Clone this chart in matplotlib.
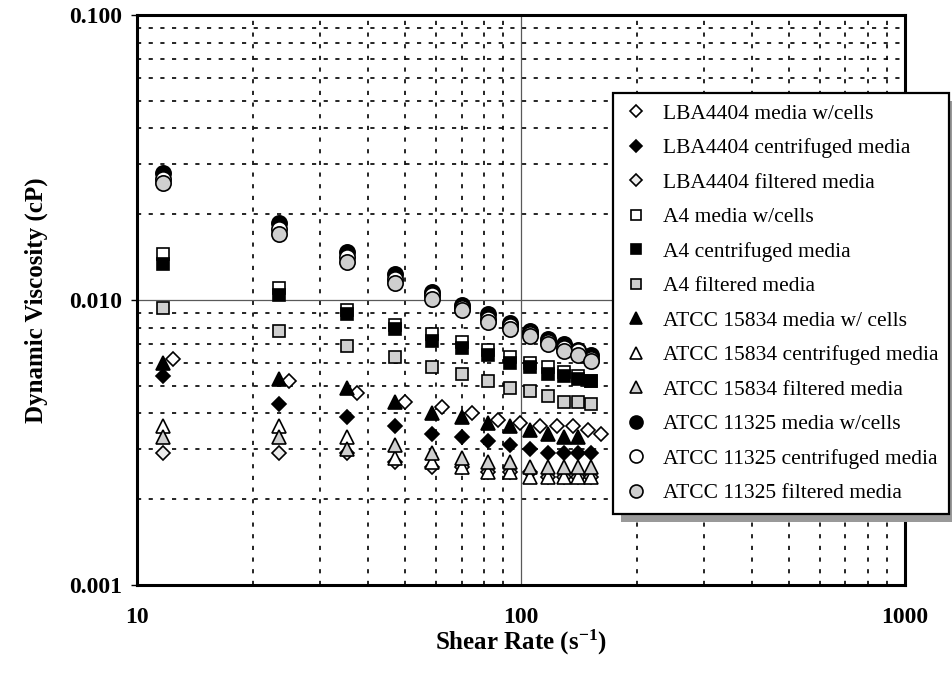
import numpy as np
import matplotlib
matplotlib.use("Agg")
import matplotlib.pyplot as plt
from matplotlib.patches import Rectangle
from matplotlib.transforms import IdentityTransform
from matplotlib.ticker import FixedLocator, FixedFormatter, NullFormatter, LogLocator

plt.rcParams["font.family"] = ["Liberation Serif", "DejaVu Serif"]
plt.rcParams["mathtext.fontset"] = "custom"
plt.rcParams["mathtext.rm"] = "Liberation Serif:bold"
plt.rcParams["mathtext.it"] = "Liberation Serif:bold"
plt.rcParams["mathtext.bf"] = "Liberation Serif:bold"

# shear rates (s^-1)
shear = [11.7, 23.5, 35.2, 47.0, 58.7, 70.4, 82.2, 93.9, 105.7, 117.4, 129.1, 140.9, 152.6]
shear_lba_cells = [12.4, 24.9, 37.3, 49.8, 62.2, 74.6, 87.1, 99.5, 112.0, 124.4, 136.8, 149.3, 161.7]

# viscosite dynamique (cP)
lba_cells = [0.0062, 0.0052, 0.0047, 0.0044, 0.0042, 0.0040, 0.0038, 0.0037, 0.0036, 0.0036, 0.0036, 0.0035, 0.0034]
lba_centri = [0.0054, 0.0043, 0.0039, 0.0036, 0.0034, 0.0033, 0.0032, 0.0031, 0.0030, 0.0029, 0.0029, 0.0029, 0.0029]
lba_filtre = [0.0029, 0.0029, 0.0029, 0.0027, 0.0026, 0.0026, 0.0025, 0.0025, 0.0025, 0.0024, 0.0024, 0.0024, 0.0024]

a4_cells = [0.0145, 0.0110, 0.0092, 0.0082, 0.0076, 0.0071, 0.0067, 0.0063, 0.0060, 0.0058, 0.0056, 0.0054, 0.0052]
a4_centri = [0.0134, 0.0104, 0.0089, 0.0079, 0.0072, 0.0068, 0.0064, 0.0060, 0.0058, 0.0055, 0.0054, 0.0053, 0.0052]
a4_filtre = [0.0094, 0.0078, 0.0069, 0.0063, 0.0058, 0.0055, 0.0052, 0.0049, 0.0048, 0.0046, 0.0044, 0.0044, 0.0043]

atcc15834_cells = [0.0060, 0.0053, 0.0049, 0.0044, 0.0040, 0.0039, 0.0037, 0.0036, 0.0035, 0.0034, 0.0033, 0.0033]
atcc15834_centri = [0.0036, 0.0036, 0.0033, 0.0028, 0.0027, 0.0026, 0.0025, 0.0025, 0.0024, 0.0024, 0.0024, 0.0024, 0.0024]
atcc15834_filtre = [0.0033, 0.0033, 0.0030, 0.0031, 0.0029, 0.0028, 0.0027, 0.0027, 0.0026, 0.0026, 0.0026, 0.0026, 0.0026]

atcc11325_cells = [0.0278, 0.0187, 0.0147, 0.0123, 0.0107, 0.0096, 0.0089, 0.0083, 0.0078, 0.0073, 0.0070, 0.0067, 0.0064]
atcc11325_centri = [0.0266, 0.0178, 0.0141, 0.0118, 0.0104, 0.0094, 0.0086, 0.0081, 0.0076, 0.0071, 0.0068, 0.0066, 0.0062]
atcc11325_filtre = [0.0257, 0.0171, 0.0136, 0.0115, 0.0101, 0.0092, 0.0084, 0.0079, 0.0075, 0.0070, 0.0066, 0.0064, 0.0061]

labels = ["LBA4404 media w/cells", "LBA4404 centrifuged media", "LBA4404 filtered media",
          "A4 media w/cells", "A4 centrifuged media", "A4 filtered media",
          "ATCC 15834 media w/ cells", "ATCC 15834 centrifuged media", "ATCC 15834 filtered media",
          "ATCC 11325 media w/cells", "ATCC 11325 centrifuged media", "ATCC 11325 filtered media"]

x_ticks = [10, 100, 1000]
x_ticklabels = ["10", "100", "1000"]
y_ticks = [0.001, 0.01, 0.1]
y_ticklabels = ["0.001", "0.010", "0.100"]

GRIS = "#cfcfcf"

fig = plt.figure(figsize=(9.52, 6.78), dpi=100)
ax = fig.add_axes([0.1439, 0.1372, 0.8067, 0.8407])
ax.set_xscale("log")
ax.set_yscale("log")

# (x, y, marqueur, couleur de remplissage, taille)
series = [
    (shear_lba_cells, lba_cells, "D", "white", 7.5),
    (shear, lba_centri, "D", "black", 7.5),
    (shear, lba_filtre, "D", "#ececec", 7.5),
    (shear, a4_cells, "s", "white", 9),
    (shear, a4_centri, "s", "black", 9),
    (shear, a4_filtre, "s", GRIS, 9),
    (shear[:len(atcc15834_cells)], atcc15834_cells, "^", "black", 9.5),
    (shear, atcc15834_centri, "^", "white", 9.5),
    (shear, atcc15834_filtre, "^", GRIS, 9.5),
    (shear, atcc11325_cells, "o", "black", 11),
    (shear, atcc11325_centri, "o", "white", 11),
    (shear, atcc11325_filtre, "o", GRIS, 11),
]

handles = []
for (x, y, m, fc, ms), lab in zip(series, labels):
    h, = ax.plot(x, y, linestyle="none", marker=m, markersize=ms,
                 markerfacecolor=fc, markeredgecolor="black",
                 markeredgewidth=1.2, label=lab, zorder=3)
    handles.append(h)

ax.set_xlim(10, 1000)
ax.set_ylim(0.001, 0.1)

ax.xaxis.set_major_locator(FixedLocator(x_ticks))
ax.xaxis.set_major_formatter(FixedFormatter(x_ticklabels))
ax.yaxis.set_major_locator(FixedLocator(y_ticks))
ax.yaxis.set_major_formatter(FixedFormatter(y_ticklabels))
ax.xaxis.set_minor_locator(LogLocator(base=10, subs=np.arange(2, 10), numticks=20))
ax.yaxis.set_minor_locator(LogLocator(base=10, subs=np.arange(2, 10), numticks=20))
ax.xaxis.set_minor_formatter(NullFormatter())
ax.yaxis.set_minor_formatter(NullFormatter())

ax.tick_params(axis="x", which="both", length=0, pad=16, labelsize=17)
ax.tick_params(axis="y", which="major", length=4.5, width=1, pad=6, labelsize=17, direction="out")
ax.tick_params(axis="y", which="minor", length=0)
for t in ax.get_xticklabels() + ax.get_yticklabels():
    t.set_fontweight("bold")

# grille pointillee sur les sous-graduations, traits pleins a 100 et 0.010
ax.set_axisbelow(True)
ax.grid(which="minor", color="black", linestyle=(0, (2.5, 4.5)), linewidth=1.2)
ax.axvline(100, color="0.35", linewidth=0.9, zorder=1)
ax.axhline(0.01, color="0.35", linewidth=0.9, zorder=1)

for s in ax.spines.values():
    s.set_linewidth(2.2)

ax.set_ylabel("Dynamic Viscosity (cP)", fontsize=18, fontweight="bold")
ax.yaxis.set_label_coords(-0.116, 0.5)
ax.set_xlabel("Shear Rate (s$^{-1}$)", fontsize=18, fontweight="bold")
ax.xaxis.set_label_coords(0.5, -0.075)

leg = ax.legend(handles=handles, loc="upper right",
                bbox_to_anchor=(949 / 952, 1 - 93 / 678), bbox_transform=fig.transFigure,
                fancybox=False, edgecolor="black", framealpha=1, fontsize=15.5,
                borderpad=0.5, labelspacing=0.67, handlelength=1.1, handletextpad=0.7,
                borderaxespad=0, markerscale=0.85)
leg.get_frame().set_linewidth(1.6)
leg.set_zorder(6)

# ombre grise decalee sous la legende
fig.canvas.draw()
bb = leg.get_frame().get_window_extent()
ombre = Rectangle((bb.x0 + 8, bb.y0 - 8), bb.width, bb.height, transform=IdentityTransform(),
                  facecolor="0.6", edgecolor="none", zorder=5.9, clip_on=False)
ax.add_artist(ombre)

fig.savefig("out.png", dpi=100)
